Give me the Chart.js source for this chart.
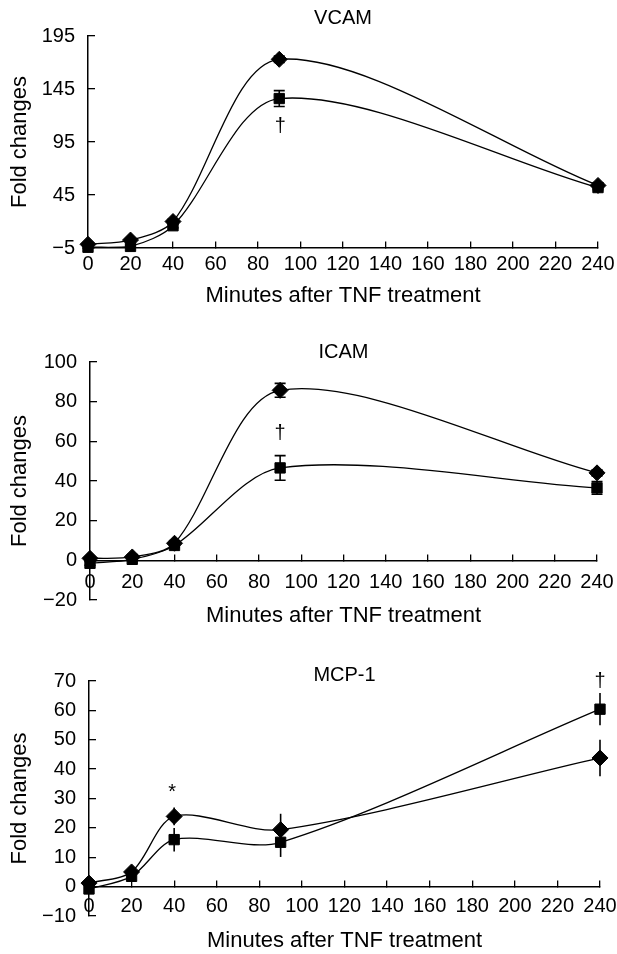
<!DOCTYPE html>
<html>
<head>
<meta charset="utf-8">
<script src="https://cdn.jsdelivr.net/npm/chart.js@4.4.1/dist/chart.umd.min.js"></script>
<style>
  body { margin: 0; background: #fff; }
  canvas { display: block; }
</style>
</head>
<body>
<canvas id="vcam" width="617" height="318"></canvas>
<canvas id="icam" width="617" height="318"></canvas>
<canvas id="mcp1" width="617" height="318"></canvas>
<script>
// sampling times (min)
const minutes = [0, 20, 40, 90, 240];
const xTicks = [0, 20, 40, 60, 80, 100, 120, 140, 160, 180, 200, 220, 240];

// VCAM
const vcamDiamond = [-1.5, 2.5, 20, 173, 54];
const vcamDiamondErr = [1, 1, 2, 3, 2];
const vcamSquare = [-4.3, -3.5, 16, 136, 52];
const vcamSquareErr = [1, 1, 2, 7.5, 2];
const vcamTicks = [-5, 45, 95, 145, 195];
const vcamMarks = [{ x: 90.5, y: 110, text: "\u2020" }];

// ICAM
const icamDiamond = [1, 1.7, 8.6, 85.7, 44.1];
const icamDiamondErr = [0.5, 0.5, 1, 3.5, 1.5];
const icamSquare = [-1.5, 0.5, 7.5, 46.6, 36.5];
const icamSquareErr = [1, 0.5, 1, 6.2, 3.2];
const icamTicks = [-20, 0, 20, 40, 60, 80, 100];
const icamMarks = [{ x: 90, y: 64, text: "\u2020" }];

// MCP-1
const mcpDiamond = [1.2, 5, 23.9, 19.4, 43.8];
const mcpDiamondErr = [0.5, 1, 3, 5.4, 6.2];
const mcpSquare = [-0.8, 3.5, 16, 15.1, 60.4];
const mcpSquareErr = [1, 1, 4, 5, 5.5];
const mcpTicks = [-10, 0, 10, 20, 30, 40, 50, 60, 70];
const mcpMarks = [
  { x: 39, y: 32, text: "*" },
  { x: 240, y: 70, text: "\u2020" },
];

Chart.defaults.font.family = "'Liberation Sans', Arial, sans-serif";
Chart.defaults.color = "#000";

const errorBars = {
  id: "errorBars",
  beforeDatasetsDraw(chart, args, opts) {
    const { ctx } = chart;
    const { x, y } = chart.scales;
    ctx.save();
    ctx.strokeStyle = "#000";
    ctx.lineWidth = 1.6;
    chart.data.datasets.forEach((ds) => {
      ds.data.forEach((p, i) => {
        const e = ds.errors[i];
        if (!e) return;
        const px = x.getPixelForValue(p.x);
        const top = y.getPixelForValue(p.y + e);
        const bot = y.getPixelForValue(p.y - e);
        ctx.beginPath();
        ctx.moveTo(px, top);
        ctx.lineTo(px, bot);
        if (opts.cap) {
          ctx.moveTo(px - opts.cap, top);
          ctx.lineTo(px + opts.cap, top);
          ctx.moveTo(px - opts.cap, bot);
          ctx.lineTo(px + opts.cap, bot);
        }
        ctx.stroke();
      });
    });
    ctx.restore();
  },
};

const marks = {
  id: "marks",
  afterDatasetsDraw(chart, args, opts) {
    const { ctx } = chart;
    const { x, y } = chart.scales;
    ctx.save();
    ctx.fillStyle = "#000";
    ctx.font = "20px 'Liberation Sans', Arial, sans-serif";
    ctx.textAlign = "center";
    ctx.textBaseline = "middle";
    opts.items.forEach((m) => {
      ctx.fillText(m.text, x.getPixelForValue(m.x), y.getPixelForValue(m.y));
    });
    ctx.restore();
  },
};

const panels = [
  {
    id: "vcam", title: "VCAM", cross: -5, ticks: vcamTicks, marks: vcamMarks, cap: 5.5,
    diamond: vcamDiamond, diamondErr: vcamDiamondErr, square: vcamSquare, squareErr: vcamSquareErr,
    padTop: 12, padRight: 19, titleGap: 12, yWidth: 88, xHeight: 70, labelPad: 11, xTitlePad: 8.8,
  },
  {
    id: "icam", title: "ICAM", cross: 0, ticks: icamTicks, marks: icamMarks, cap: 5.5,
    diamond: icamDiamond, diamondErr: icamDiamondErr, square: icamSquare, squareErr: icamSquareErr,
    padTop: 28, padRight: 20, titleGap: 4, yWidth: 90, xHeight: 36, labelPad: 17, xTitlePad: -33.2,
  },
  {
    id: "mcp1", title: "MCP-1", cross: 0, ticks: mcpTicks, marks: mcpMarks, cap: 0,
    diamond: mcpDiamond, diamondErr: mcpDiamondErr, square: mcpSquare, squareErr: mcpSquareErr,
    padTop: 33, padRight: 17, titleGap: 0, yWidth: 89, xHeight: 38, labelPad: 15, xTitlePad: -29.2,
  },
];

const toPoints = (vals) => vals.map((v, i) => ({ x: minutes[i], y: v }));
const minus = (v) => String(v).replace("-", "\u2212");
const noPadding = (s) => {
  s.paddingLeft = 0;
  s.paddingRight = 0;
  s.paddingTop = 0;
  s.paddingBottom = 0;
};

panels.forEach((p) => {
  const tickGrid = { drawOnChartArea: false, tickLength: -7, color: "#000", lineWidth: 1.3 };
  const axisBorder = { color: "#000", width: 1.5 };

  new Chart(document.getElementById(p.id), {
    type: "line",
    plugins: [errorBars, marks],
    data: {
      datasets: [
        {
          data: toPoints(p.square),
          errors: p.squareErr,
          pointStyle: "rect",
          pointRadius: 7.3,
        },
        {
          data: toPoints(p.diamond),
          errors: p.diamondErr,
          pointStyle: "rectRot",
          pointRadius: 8,
        },
      ].map((ds) => ({
        ...ds,
        borderColor: "#000",
        backgroundColor: "#000",
        borderWidth: 1.3,
        pointBorderWidth: 1,
        pointBackgroundColor: "#000",
        pointBorderColor: "#000",
        tension: 0.3,
        clip: false,
      })),
    },
    options: {
      responsive: false,
      animation: false,
      devicePixelRatio: 1,
      layout: { padding: { top: p.padTop, right: p.padRight, bottom: p.xHeight, left: 0 } },
      plugins: {
        legend: { display: false },
        tooltip: { enabled: false },
        title: {
          display: true,
          text: p.title,
          fullSize: false,
          color: "#000",
          font: { size: 20, weight: "normal", lineHeight: 0.6 },
          padding: { top: 0, bottom: p.titleGap },
        },
        errorBars: { cap: p.cap },
        marks: { items: p.marks },
      },
      scales: {
        x: {
          type: "linear",
          min: 0,
          max: 240,
          position: { y: p.cross },
          afterBuildTicks: (s) => { s.ticks = xTicks.map((v) => ({ value: v })); },
          afterFit: (s) => { s.height = p.xHeight; noPadding(s); },
          grid: tickGrid,
          border: axisBorder,
          ticks: { font: { size: 20 }, padding: p.labelPad, maxRotation: 0, autoSkip: false },
          title: {
            display: true,
            text: "Minutes after TNF treatment",
            font: { size: 22 },
            padding: { top: 0, bottom: p.xTitlePad },
          },
        },
        y: {
          type: "linear",
          position: "left",
          min: p.ticks[0],
          max: p.ticks[p.ticks.length - 1],
          afterBuildTicks: (s) => { s.ticks = p.ticks.map((v) => ({ value: v })); },
          afterFit: (s) => { s.width = p.yWidth; noPadding(s); },
          grid: tickGrid,
          border: axisBorder,
          ticks: { font: { size: 20 }, padding: 20, callback: minus },
          title: {
            display: true,
            text: "Fold changes",
            font: { size: 22 },
            padding: { top: 7, bottom: 0 },
          },
        },
      },
    },
  });
});
</script>
</body>
</html>
